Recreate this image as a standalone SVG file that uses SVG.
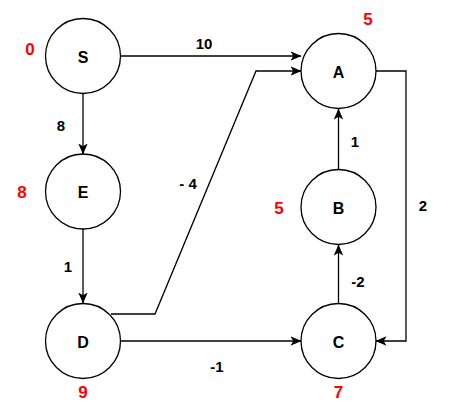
<svg xmlns="http://www.w3.org/2000/svg" width="452" height="409" viewBox="0 0 452 409">
<defs>
<marker id="arr" viewBox="0 0 11 10" refX="10.5" refY="5" markerWidth="11" markerHeight="10" markerUnits="userSpaceOnUse" orient="auto">
<path d="M0,0.3 L11,5 L0,9.7 L2.8,5 Z" fill="#000"/>
</marker>
<style>
.n{fill:#fff;stroke:#000;stroke-width:1.3}
.t{font-family:"Liberation Sans",Arial,sans-serif;font-weight:bold;text-anchor:middle;dominant-baseline:central}
.nl{font-size:16px;fill:#000}
.el{font-size:15px;fill:#000}
.rl{font-size:17px;fill:#ff0000}
.e{fill:none;stroke:#000;stroke-width:1.3;marker-end:url(#arr)}
</style>
</defs>
<rect width="452" height="409" fill="#fff"/>
<g id="connectors">
<path class="e" d="M121,56 H301"/>
<path class="e" d="M111,314 H155 L256,71 H301"/>
<path class="e" d="M376,71 H406 V341 H376"/>
<path class="e" d="M83,94 V154"/>
<path class="e" d="M83,229 V303"/>
<path class="e" d="M121,341 H301"/>
<path class="e" d="M338.5,303 V245"/>
<path class="e" d="M338.5,169 V109"/>
<text class="t el" x="204" y="43">10</text>
<text class="t el" x="188" y="183">- 4</text>
<text class="t el" x="423" y="205">2</text>
<text class="t el" x="61" y="125">8</text>
<text class="t el" x="68" y="266">1</text>
<text class="t el" x="217" y="366">-1</text>
<text class="t el" x="358" y="281">-2</text>
<text class="t el" x="355" y="141">1</text>
</g>
<g id="S"><circle class="n" cx="83" cy="56" r="37.5"/><text class="t nl" x="83" y="57">S</text><text class="t rl" x="30" y="49">0</text></g>
<g id="A"><circle class="n" cx="338.5" cy="71" r="37.5"/><text class="t nl" x="338.5" y="72">A</text><text class="t rl" x="368" y="19">5</text></g>
<g id="E"><circle class="n" cx="83" cy="191.5" r="37.5"/><text class="t nl" x="83" y="192">E</text><text class="t rl" x="22" y="192">8</text></g>
<g id="B"><circle class="n" cx="338.5" cy="207" r="37.5"/><text class="t nl" x="338.5" y="208">B</text><text class="t rl" x="279" y="208">5</text></g>
<g id="D"><circle class="n" cx="83" cy="341" r="37.5"/><text class="t nl" x="83" y="342">D</text><text class="t rl" x="83" y="392">9</text></g>
<g id="C"><circle class="n" cx="338.5" cy="341" r="37.5"/><text class="t nl" x="338.5" y="342">C</text><text class="t rl" x="338.5" y="392">7</text></g>
</svg>
